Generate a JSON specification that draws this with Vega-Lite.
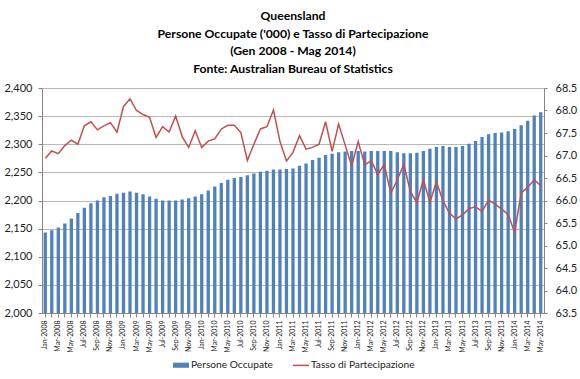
{
  "$schema": "https://vega.github.io/schema/vega-lite/v6.json",
  "width": 502,
  "height": 225,
  "autosize": {"type": "none"},
  "padding": {"left": 42, "top": 88, "right": 36, "bottom": 66},
  "background": "white",
  "config": {"view": {"stroke": null}, "font": "Lato"},
  "title": {
    "text": ["Queensland", "Persone Occupate ('000) e Tasso di Partecipazione", "(Gen 2008 - Mag 2014)", "Fonte: Australian Bureau of Statistics"],
    "font": "Lato", "fontSize": 12.2, "fontWeight": "bold", "color": "#000000",
    "lineHeight": 17.5, "anchor": "middle", "offset": 7
  },
  "datasets": {
    "legenda": [
      {"serie": "Persone Occupate"},
      {"serie": "Tasso di Partecipazione"}
    ],
    "qld": [
    {"m": "Jan-2008", "occ": 2143, "tasso": 66.94},
    {"m": "Feb-2008", "occ": 2147, "tasso": 67.10},
    {"m": "Mar-2008", "occ": 2152, "tasso": 67.04},
    {"m": "Apr-2008", "occ": 2159, "tasso": 67.22},
    {"m": "May-2008", "occ": 2168, "tasso": 67.34},
    {"m": "Jun-2008", "occ": 2178, "tasso": 67.25},
    {"m": "Jul-2008", "occ": 2187, "tasso": 67.66},
    {"m": "Aug-2008", "occ": 2195, "tasso": 67.75},
    {"m": "Sep-2008", "occ": 2200, "tasso": 67.57},
    {"m": "Oct-2008", "occ": 2206, "tasso": 67.66},
    {"m": "Nov-2008", "occ": 2208, "tasso": 67.73},
    {"m": "Dec-2008", "occ": 2212, "tasso": 67.52},
    {"m": "Jan-2009", "occ": 2214, "tasso": 68.09},
    {"m": "Feb-2009", "occ": 2216, "tasso": 68.26},
    {"m": "Mar-2009", "occ": 2214, "tasso": 68.00},
    {"m": "Apr-2009", "occ": 2211, "tasso": 67.91},
    {"m": "May-2009", "occ": 2207, "tasso": 67.85},
    {"m": "Jun-2009", "occ": 2203, "tasso": 67.40},
    {"m": "Jul-2009", "occ": 2200, "tasso": 67.64},
    {"m": "Aug-2009", "occ": 2200, "tasso": 67.52},
    {"m": "Sep-2009", "occ": 2200, "tasso": 67.88},
    {"m": "Oct-2009", "occ": 2202, "tasso": 67.42},
    {"m": "Nov-2009", "occ": 2204, "tasso": 67.18},
    {"m": "Dec-2009", "occ": 2207, "tasso": 67.55},
    {"m": "Jan-2010", "occ": 2211, "tasso": 67.18},
    {"m": "Feb-2010", "occ": 2218, "tasso": 67.32},
    {"m": "Mar-2010", "occ": 2225, "tasso": 67.37},
    {"m": "Apr-2010", "occ": 2231, "tasso": 67.59},
    {"m": "May-2010", "occ": 2237, "tasso": 67.67},
    {"m": "Jun-2010", "occ": 2240, "tasso": 67.67},
    {"m": "Jul-2010", "occ": 2242, "tasso": 67.51},
    {"m": "Aug-2010", "occ": 2245, "tasso": 66.89},
    {"m": "Sep-2010", "occ": 2248, "tasso": 67.25},
    {"m": "Oct-2010", "occ": 2251, "tasso": 67.59},
    {"m": "Nov-2010", "occ": 2253, "tasso": 67.64},
    {"m": "Dec-2010", "occ": 2255, "tasso": 68.01},
    {"m": "Jan-2011", "occ": 2255, "tasso": 67.31},
    {"m": "Feb-2011", "occ": 2256, "tasso": 66.88},
    {"m": "Mar-2011", "occ": 2257, "tasso": 67.07},
    {"m": "Apr-2011", "occ": 2262, "tasso": 67.44},
    {"m": "May-2011", "occ": 2266, "tasso": 67.14},
    {"m": "Jun-2011", "occ": 2272, "tasso": 67.18},
    {"m": "Jul-2011", "occ": 2276, "tasso": 67.25},
    {"m": "Aug-2011", "occ": 2281, "tasso": 67.75},
    {"m": "Sep-2011", "occ": 2283, "tasso": 67.09},
    {"m": "Oct-2011", "occ": 2286, "tasso": 67.70},
    {"m": "Nov-2011", "occ": 2287, "tasso": 67.23},
    {"m": "Dec-2011", "occ": 2288, "tasso": 66.77},
    {"m": "Jan-2012", "occ": 2288, "tasso": 67.31},
    {"m": "Feb-2012", "occ": 2287, "tasso": 66.79},
    {"m": "Mar-2012", "occ": 2288, "tasso": 66.88},
    {"m": "Apr-2012", "occ": 2288, "tasso": 66.58},
    {"m": "May-2012", "occ": 2288, "tasso": 66.80},
    {"m": "Jun-2012", "occ": 2288, "tasso": 66.16},
    {"m": "Jul-2012", "occ": 2286, "tasso": 66.46},
    {"m": "Aug-2012", "occ": 2284, "tasso": 66.80},
    {"m": "Sep-2012", "occ": 2284, "tasso": 66.20},
    {"m": "Oct-2012", "occ": 2285, "tasso": 65.95},
    {"m": "Nov-2012", "occ": 2288, "tasso": 66.46},
    {"m": "Dec-2012", "occ": 2292, "tasso": 65.96},
    {"m": "Jan-2013", "occ": 2295, "tasso": 66.42},
    {"m": "Feb-2013", "occ": 2297, "tasso": 65.99},
    {"m": "Mar-2013", "occ": 2295, "tasso": 65.72},
    {"m": "Apr-2013", "occ": 2295, "tasso": 65.59},
    {"m": "May-2013", "occ": 2297, "tasso": 65.68},
    {"m": "Jun-2013", "occ": 2301, "tasso": 65.82},
    {"m": "Jul-2013", "occ": 2306, "tasso": 65.86},
    {"m": "Aug-2013", "occ": 2313, "tasso": 65.76},
    {"m": "Sep-2013", "occ": 2318, "tasso": 66.01},
    {"m": "Oct-2013", "occ": 2320, "tasso": 65.92},
    {"m": "Nov-2013", "occ": 2321, "tasso": 65.81},
    {"m": "Dec-2013", "occ": 2323, "tasso": 65.69},
    {"m": "Jan-2014", "occ": 2327, "tasso": 65.29},
    {"m": "Feb-2014", "occ": 2334, "tasso": 66.17},
    {"m": "Mar-2014", "occ": 2342, "tasso": 66.29},
    {"m": "Apr-2014", "occ": 2351, "tasso": 66.46},
    {"m": "May-2014", "occ": 2357, "tasso": 66.33}
  ]},
  "layer": [
    {
      "data": {"name": "qld"},
      "mark": {"type": "bar", "size": 3.3, "color": "#4F81BD", "clip": true},
      "encoding": {
        "x": {
          "field": "m", "type": "ordinal", "sort": null,
          "scale": {"paddingInner": 0.5, "paddingOuter": 0.25},
          "axis": {
            "title": null, "labelAngle": -90, "labelFontSize": 7, "labelFont": "Lato",
            "labelColor": "#222222", "labelOverlap": false, "labelPadding": 3,
            "labelExpr": "indexof(['Jan','Mar','May','Jul','Sep','Nov'], slice(datum.value,0,3)) >= 0 ? datum.value : ''",
            "ticks": true, "tickSize": 4, "tickColor": "#868686",
            "domainColor": "#868686", "grid": false
          }
        },
        "y": {
          "field": "occ", "type": "quantitative",
          "scale": {"domain": [2000, 2400], "nice": false, "zero": false},
          "axis": {
            "title": null, "orient": "left", "values": [2000, 2050, 2100, 2150, 2200, 2250, 2300, 2350, 2400],
            "format": ",.0f", "labelFont": "Lato", "labelFontSize": 11, "labelColor": "#222222",
            "labelPadding": 6, "tickSize": 4, "tickColor": "#868686", "domainColor": "#868686",
            "grid": true, "gridColor": "#B8B8B8", "gridWidth": 1
          }
        }
      }
    },
    {
      "data": {"name": "qld"},
      "mark": {"type": "line", "strokeWidth": 1.5, "color": "#C0504D"},
      "encoding": {
        "x": {"field": "m", "type": "ordinal", "sort": null},
        "y": {
          "field": "tasso", "type": "quantitative",
          "scale": {"domain": [63.5, 68.5], "nice": false, "zero": false},
          "axis": {
            "title": null, "orient": "right", "values": [63.5, 64, 64.5, 65, 65.5, 66, 66.5, 67, 67.5, 68, 68.5],
            "format": ".1f", "labelFont": "Lato", "labelFontSize": 11, "labelColor": "#222222",
            "labelPadding": 8, "tickSize": 3, "tickColor": "#868686", "domainColor": "#868686",
            "grid": false
          }
        }
      }
    },
    {
      "data": {"name": "legenda"},
      "mark": {"type": "point", "opacity": 0, "filled": true},
      "encoding": {
        "color": {
          "field": "serie", "type": "nominal",
          "scale": {"domain": ["Persone Occupate", "Tasso di Partecipazione"], "range": ["#4F81BD", "#C0504D"]},
          "legend": {
            "title": null, "orient": "none", "direction": "horizontal",
            "legendX": 130, "legendY": 268,
            "labelFont": "Lato", "labelFontSize": 10.2, "labelColor": "#222222",
            "symbolSize": 256, "labelOffset": 1, "columnPadding": 17,
            "encode": {
              "symbols": {
                "update": {
                  "shape": {"signal": "datum.value === 'Persone Occupate' ? 'M-1,-0.32H1V0.32H-1Z' : 'M-1,0H1'"},
                  "fill": {"signal": "datum.value === 'Persone Occupate' ? '#4F81BD' : 'transparent'"},
                  "stroke": {"signal": "datum.value === 'Persone Occupate' ? 'transparent' : '#C0504D'"},
                  "strokeWidth": {"value": 1.5},
                  "opacity": {"value": 1}
                }
              }
            }
          }
        }
      }
    }
  ],
  "resolve": {"scale": {"y": "independent"}}
}
